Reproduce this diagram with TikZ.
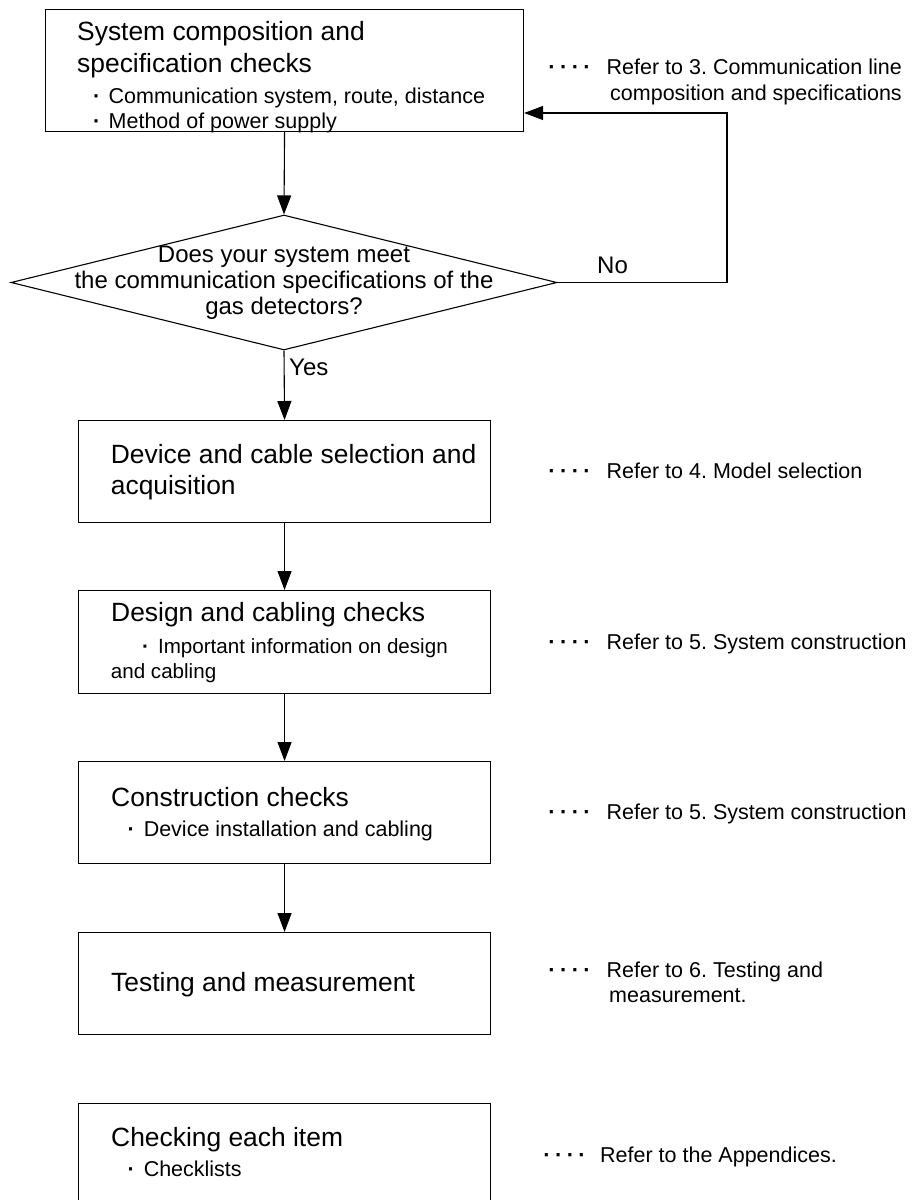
\documentclass[tikz,border=0pt]{standalone}
\usepackage{fontspec}
\setmainfont{Liberation Sans}
\usetikzlibrary{shapes.geometric,arrows.meta}
\frenchspacing
\newcommand{\bul}[1][9pt]{{\bfseries\textperiodcentered}\hspace{#1}}
\newcommand{\ldot}{\makebox[11.7pt][c]{\raisebox{-0.5pt}{\bfseries\textperiodcentered}}}
\newcommand{\leaderdots}{\ldot\ldot\ldot\ldot}
\begin{document}
\begin{tikzpicture}[x=1pt,y=-1pt,
  box/.style={draw=black, line width=1.1pt, rectangle, inner sep=0pt, anchor=north west},
  dia/.style={draw=black, line width=1.1pt, diamond, inner sep=0pt, minimum width=546pt, minimum height=135pt},
  ttl/.style={anchor=base west, inner sep=0pt, font=\fontsize{26.4}{30}\selectfont},
  sub/.style={anchor=base west, inner sep=0pt, font=\fontsize{21.5}{25}\selectfont},
  subs/.style={anchor=base west, inner sep=0pt, font=\fontsize{20.6}{25}\selectfont},
  reftext/.style={anchor=base west, inner sep=0pt, font=\fontsize{21.5}{25}\selectfont},
  dotlead/.style={anchor=base west, inner sep=0pt, font=\fontsize{22}{25}\selectfont},
  lbl/.style={anchor=base west, inner sep=0pt, font=\fontsize{24}{26}\selectfont},
  dtext/.style={align=center, inner sep=0pt, font=\fontsize{24}{26}\selectfont},
  flow/.style={draw=black, line width=1.1pt, -{Triangle[length=19pt,width=14pt]}},
]
\useasboundingbox (0,0) rectangle (911,1200);
\clip (0,0) rectangle (911,1200);

% boxes
\node[box, minimum width=478pt, minimum height=122pt] (b1) at (45,9) {};
\node[dia] (d) at (284,282.5) {};
\node[box, minimum width=412pt, minimum height=102pt] (b2) at (78,420) {};
\node[box, minimum width=412pt, minimum height=103pt] (b3) at (78,590) {};
\node[box, minimum width=412pt, minimum height=102pt] (b4) at (78,761) {};
\node[box, minimum width=412pt, minimum height=102pt] (b5) at (78,932) {};
\node[box, minimum width=412pt, minimum height=130pt] (b6) at (78,1103) {};

% connectors
\coordinate (nr) at (727,282.5);
\coordinate (nt) at (727,113);
\draw[flow] (b1.south) -- (d.north);
\draw[flow] (d.south) -- (b2.north);
\draw[flow] (b2.south) -- (b3.north);
\draw[flow] (b3.south) -- (b4.north);
\draw[flow] (b4.south) -- (b5.north);
\draw[flow] (d.east) -- (nr) -- (nt) -- (nt -| b1.east);

% box texts
\node[ttl] (t1a) at (77,40) {System composition and};
\node[ttl] (t1b) at (77,72.5) {specification checks};
\node[sub] (s1a) at (93,103) {\bul[8.3pt]Communication system, route, distance};
\node[sub] (s1b) at (93,128.5) {\bul[8.3pt]Method of power supply};

\node[dtext] (dq) at (284,282.5) {Does your system meet\\the communication specifications of the\\gas detectors?};
\node[lbl] (no) at (597,273) {No};
\node[lbl] (yes) at (289,375) {Yes};

\node[ttl] (t2a) at (110.7,463) {Device and cable selection and};
\node[ttl] (t2b) at (110.7,494) {acquisition};

\node[ttl] (t3) at (111,621) {Design and cabling checks};
\node[subs] (s3a) at (142,653) {\bul Important information on design};
\node[subs] (s3b) at (110.7,678) {and cabling};

\node[ttl] (t4) at (111,806) {Construction checks};
\node[sub] (s4) at (127.4,836) {\bul Device installation and cabling};

\node[ttl] (t5) at (111,991) {Testing and measurement};

\node[ttl] (t6) at (111,1146) {Checking each item};
\node[sub] (s6) at (127.4,1176) {\bul Checklists};

% references
\node[dotlead] (l1) at (546,74) {\leaderdots};
\node[reftext] (r1a) at (606.5,74) {Refer to 3. Communication line};
\node[reftext] (r1b) at (610,100) {composition and specifications};

\node[dotlead] (l2) at (546,478) {\leaderdots};
\node[reftext] (r2) at (606.5,478) {Refer to 4. Model selection};

\node[dotlead] (l3) at (546,649) {\leaderdots};
\node[reftext] (r3) at (606.5,649) {Refer to 5. System construction};

\node[dotlead] (l4) at (546,819) {\leaderdots};
\node[reftext] (r4) at (606.5,819) {Refer to 5. System construction};

\node[dotlead] (l5) at (546,977) {\leaderdots};
\node[reftext] (r5a) at (606.5,977) {Refer to 6. Testing and};
\node[reftext] (r5b) at (609,1002) {measurement.};

\node[dotlead] (l6) at (541,1162) {\leaderdots};
\node[reftext] (r6) at (600,1162) {Refer to the Appendices.};
\end{tikzpicture}
\end{document}
